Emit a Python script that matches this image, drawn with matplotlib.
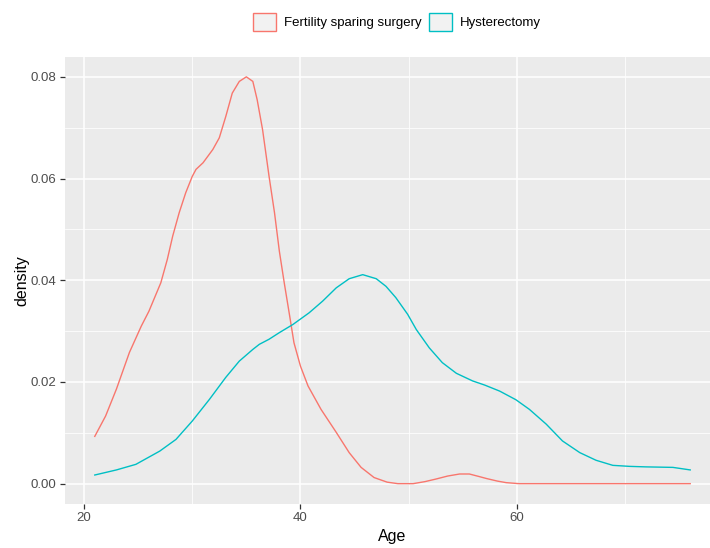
import matplotlib
matplotlib.use("Agg")
import matplotlib.pyplot as plt
from matplotlib.patches import Patch

plt.rcParams['font.family'] = ['Liberation Sans', 'DejaVu Sans']

groups = ["Fertility sparing surgery", "Hysterectomy"]
colors = ["#F8766D", "#00BFC4"]

age_fss = [21.0, 22.0, 23.0, 24.2, 25.3, 26.0, 27.1, 27.7, 28.2, 28.8, 29.4, 30.0, 30.35,
           31.0, 31.9, 32.5, 33.1, 33.7, 34.35, 35.0, 35.6, 36.0, 36.5, 37.1, 37.6, 38.05,
           38.5, 39.0, 39.4, 40.0, 40.7, 41.9, 43.3, 44.5, 45.6, 46.8, 48.0, 49.0, 50.4,
           51.5, 52.5, 53.6, 54.7, 55.6, 56.5, 57.2, 58.2, 59.0, 60.2, 65.0, 70.0, 76.0]
dens_fss = [0.0093, 0.0133, 0.0186, 0.0258, 0.0310, 0.0339, 0.0395, 0.0441, 0.0487, 0.0533,
            0.0572, 0.0604, 0.0618, 0.0631, 0.0657, 0.0680, 0.0722, 0.0768, 0.0791, 0.0800,
            0.0791, 0.0755, 0.0696, 0.0604, 0.0533, 0.0457, 0.0395, 0.0330, 0.0277, 0.0231,
            0.0192, 0.0146, 0.0101, 0.0061, 0.0032, 0.0012, 0.0003, 0.0000, 0.0000, 0.0004,
            0.0009, 0.0015, 0.0019, 0.0019, 0.0014, 0.0010, 0.0005, 0.0002, 0.0, 0.0, 0.0, 0.0]

age_hys = [21.0, 23.0, 24.8, 27.0, 28.5, 30.0, 31.6, 33.1, 34.35, 35.6, 36.2, 37.1, 38.05,
           39.3, 40.8, 42.05, 43.3, 44.5, 45.75, 47.0, 47.9, 48.8, 49.9, 50.7, 51.9, 53.1,
           54.4, 55.9, 57.0, 58.4, 59.9, 61.15, 62.7, 64.2, 65.8, 67.3, 68.85, 70.4, 71.9,
           74.4, 76.0]
dens_hys = [0.0017, 0.0027, 0.0038, 0.0064, 0.0087, 0.0123, 0.0166, 0.0209, 0.0241, 0.0264,
            0.0274, 0.0284, 0.0297, 0.0313, 0.0336, 0.0359, 0.0385, 0.0403, 0.0411, 0.0403,
            0.0388, 0.0366, 0.0333, 0.0303, 0.0267, 0.0238, 0.0217, 0.0202, 0.0194, 0.0182,
            0.0165, 0.0146, 0.0117, 0.0084, 0.0061, 0.0046, 0.0036, 0.0034, 0.0033, 0.0032,
            0.0027]

x_ticks = [20, 40, 60]
x_minor = [30, 50, 70]
y_ticks = [0.00, 0.02, 0.04, 0.06, 0.08]
y_minor = [0.01, 0.03, 0.05, 0.07]

W, H = 710, 548
fig = plt.figure(figsize=(W / 100, H / 100), dpi=100)
left, right, top, bottom = 65, 720, 57, 504
ax = fig.add_axes([left / W, 1 - bottom / H, (right - left) / W, (bottom - top) / H])
ax.set_facecolor("#EBEBEB")
for s in ax.spines.values():
    s.set_visible(False)

ax.set_xlim(18.25, 78.75)
ax.set_ylim(-0.004, 0.0839)
ax.set_xticks(x_ticks)
ax.set_xticks(x_minor, minor=True)
ax.set_yticks(y_ticks)
ax.set_yticks(y_minor, minor=True)
ax.set_xticklabels([str(v) for v in x_ticks])
ax.set_yticklabels(["%.2f" % v for v in y_ticks])
ax.grid(True, which="major", color="white", linewidth=1.1)
ax.grid(True, which="minor", color="white", linewidth=0.55)
ax.set_axisbelow(True)
ax.tick_params(which="major", length=3.5, width=0.9, color="#333333",
               labelcolor="#4D4D4D", labelsize=9.5, pad=2.5)
ax.tick_params(which="minor", length=0)

ax.plot(age_fss, dens_fss, color=colors[0], lw=1.0, solid_joinstyle="round")
ax.plot(age_hys, dens_hys, color=colors[1], lw=1.0, solid_joinstyle="round")

ax.set_xlabel("Age", fontsize=11.5, color="black", labelpad=3)
ax.set_ylabel("density", fontsize=11.5, color="black", labelpad=1)

handles = [Patch(facecolor="#F2F2F2", edgecolor=c, linewidth=1.0) for c in colors]
fig.legend(handles, groups, loc="center", bbox_to_anchor=(397 / W, 1 - 22 / H),
           ncol=2, frameon=False, fontsize=9.5, handlelength=1.75, handleheight=1.75,
           handletextpad=0.6, columnspacing=0.6, borderaxespad=0)

fig.savefig("out.png", dpi=100)
